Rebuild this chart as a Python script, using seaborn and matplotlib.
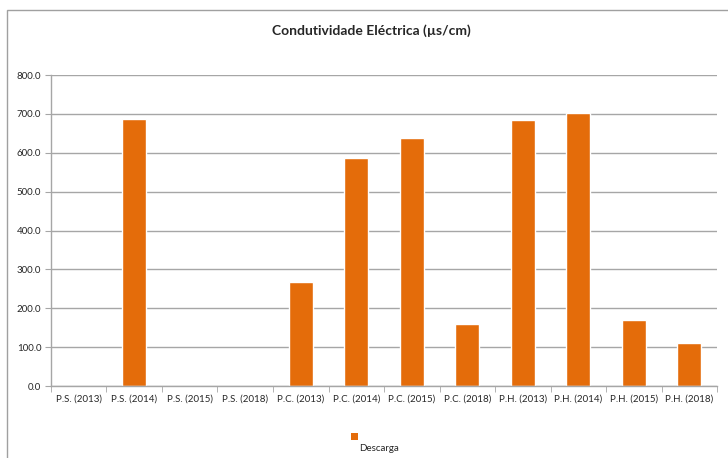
import numpy as np
import pandas as pd
import matplotlib
matplotlib.use('Agg')
import matplotlib.pyplot as plt
from matplotlib.patches import Rectangle
from matplotlib.ticker import FixedLocator, FormatStrFormatter
import seaborn as sns

sns.set_style('white')
plt.rcParams['font.family'] = ['Lato', 'DejaVu Sans']

locais = ['P.S. (2013)', 'P.S. (2014)', 'P.S. (2015)', 'P.S. (2018)',
          'P.C. (2013)', 'P.C. (2014)', 'P.C. (2015)', 'P.C. (2018)',
          'P.H. (2013)', 'P.H. (2014)', 'P.H. (2015)', 'P.H. (2018)']
descarga = [np.nan, 686, np.nan, np.nan, 268, 586, 639, 159, 685, 703, 169, 110]

df = pd.DataFrame({'local': locais, 'Descarga': descarga})
orange = '#E46C0A'
grey = '#A6A6A6'

fig = plt.figure(figsize=(7.28, 4.58), dpi=100)
ax = fig.add_axes([0.070, 0.157, 0.915, 0.679])
sns.barplot(data=df, x='local', y='Descarga', order=locais, color=orange,
            width=0.43, errorbar=None, saturation=1, ax=ax)

ax.set_ylim(0, 800)
ax.set_xlim(-0.5, len(locais) - 0.5)
ax.set_yticks(np.arange(0, 801, 100))
ax.yaxis.set_major_formatter(FormatStrFormatter('%.1f'))
ax.yaxis.grid(True, color=grey, linewidth=1)
ax.set_axisbelow(True)
ax.set_xlabel('')
ax.set_ylabel('')
for s in ['top', 'right']:
    ax.spines[s].set_visible(False)
for s in ['left', 'bottom']:
    ax.spines[s].set_color(grey)
    ax.spines[s].set_linewidth(1)
ax.tick_params(axis='y', labelsize=7, length=4, color=grey, direction='out', left=True, pad=3)
ax.tick_params(axis='x', which='major', labelsize=7, length=0, pad=6)
ax.xaxis.set_minor_locator(FixedLocator(np.arange(-0.5, len(locais), 1)))
ax.tick_params(axis='x', which='minor', length=4, color=grey, direction='out', bottom=True)

fig.text(0.51, 0.932, 'Condutividade Eléctrica (µs/cm)', ha='center', va='center',
         fontsize=10, fontweight='bold')

# borda do gráfico
fig.patches.append(Rectangle((0.009, -0.1), 1.1, 1.078, transform=fig.transFigure,
                             fill=False, edgecolor='#A0A0A0', linewidth=1))

# legenda
fig.patches.append(Rectangle((0.482, 0.040), 0.0095, 0.0155, transform=fig.transFigure,
                             facecolor=orange, edgecolor='none'))
fig.text(0.493, 0.020, 'Descarga', ha='left', va='center', fontsize=7)

fig.savefig('out.png', dpi=100)
